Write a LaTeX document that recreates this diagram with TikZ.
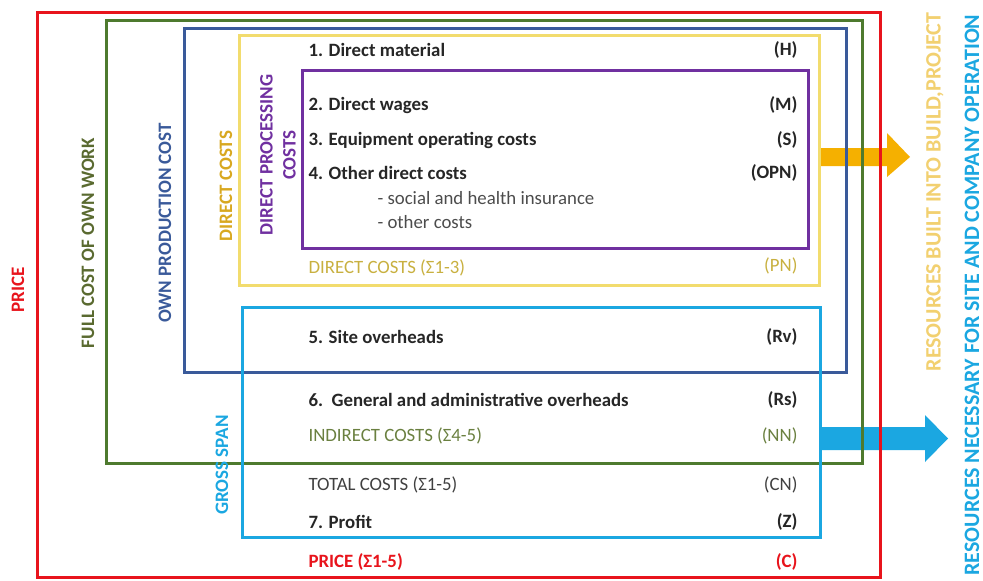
\documentclass[tikz,border=0pt]{standalone}
\usepackage{fontspec}
\setmainfont{Carlito}
\begin{document}
\begin{tikzpicture}[x=1pt,y=-1pt,
  frame/.style={line width=3pt},
  item/.style={anchor=west,font=\bfseries\fontsize{18.8}{22}\selectfont,text=black!85},
  code/.style={anchor=east,font=\bfseries\fontsize{18.8}{22}\selectfont,text=black!85},
  sub/.style={anchor=west,font=\fontsize{18.8}{22}\selectfont,text=black!70},
  vlab/.style={rotate=90,font=\bfseries\fontsize{19}{22}\selectfont,align=center,inner sep=0pt}]
\definecolor{cred}{HTML}{E8141C}
\definecolor{cgreen}{HTML}{4E7A2E}
\definecolor{cblue}{HTML}{3A5A9A}
\definecolor{cyellow}{HTML}{F2DC6E}
\definecolor{cpurple}{HTML}{7030A0}
\definecolor{ccyan}{HTML}{1BA7E1}
\definecolor{corange}{HTML}{F5B000}
\definecolor{colive}{HTML}{C8B040}
\definecolor{cindirect}{HTML}{6A8040}
\definecolor{cfull}{HTML}{5A6A30}
\definecolor{cdirect}{HTML}{D8A820}
\definecolor{cres}{HTML}{F2D070}
\useasboundingbox (0,0) rectangle (983,581);
% arrows
\fill[corange] (820,148) -- (887,148) -- (887,133) -- (910,157) -- (887,177) -- (887,166) -- (820,166) -- cycle;
\fill[ccyan] (820,427) -- (925,427) -- (925,415) -- (948,438.5) -- (925,462) -- (925,450) -- (820,450) -- cycle;
% frames
\draw[frame,cred] (37,12) rectangle (880,577);
\draw[frame,cgreen] (106,20) rectangle (862,463);
\draw[frame,cblue] (184,28) rectangle (846,372);
\draw[frame,cyellow] (239,35) rectangle (819,285);
\draw[frame,cpurple] (302,70) rectangle (808,248);
\draw[frame,ccyan] (242,307) rectangle (820,537);
% items
\node[item] (i1) at (305,50) {1. Direct material};
\node[code] (c1) at (801,50) {(H)};
\node[item] (i2) at (305,105) {2. Direct wages};
\node[code] (c2) at (801,105) {(M)};
\node[item] (i3) at (305,140) {3. Equipment operating costs};
\node[code] (c3) at (801,140) {(S)};
\node[item] (i4) at (305,173) {4. Other direct costs};
\node[code] (c4) at (801,173) {(OPN)};
\node[sub] (s1) at (374,198) {- social and health insurance};
\node[sub] (s2) at (374,222) {- other costs};
\node[sub,text=colive] (dc) at (305,268) {DIRECT COSTS (Σ1-3)};
\node[code,font=\fontsize{18.8}{22}\selectfont,text=colive] (pn) at (801,266) {(PN)};
\node[item] (i5) at (305,337) {5. Site overheads};
\node[code] (c5) at (801,337) {(Rv)};
\node[item] (i6) at (305,400) {6.\ \ General and administrative overheads};
\node[code] (c6) at (801,400) {(Rs)};
\node[sub,text=cindirect] (ic) at (305,436) {INDIRECT COSTS (Σ4-5)};
\node[code,font=\fontsize{18.8}{22}\selectfont,text=cindirect] (nn) at (801,436) {(NN)};
\node[sub,text=black!75] (tc) at (305,485) {TOTAL COSTS (Σ1-5)};
\node[code,font=\fontsize{18.8}{22}\selectfont,text=black!75] (cn) at (801,485) {(CN)};
\node[item] (i7) at (305,522) {7. Profit};
\node[code] (c7) at (801,522) {(Z)};
\node[item,text=cred] (pr) at (305,562) {PRICE (Σ1-5)};
\node[code,text=cred] (cc) at (801,562) {(C)};
% vertical labels
\node[vlab,text=cred] (lprice) at (18,290) {PRICE};
\node[vlab,text=cfull] (lfull) at (88,243) {FULL COST OF OWN WORK};
\node[vlab,text=cblue] (lown) at (165,223) {OWN PRODUCTION COST};
\node[vlab,text=cdirect] (ldir) at (226,186) {DIRECT COSTS};
\node[vlab,text=cpurple,font=\bfseries\fontsize{19}{23}\selectfont] (lproc) at (278,155) {DIRECT PROCESSING\\COSTS};
\node[vlab,text=ccyan] (lgross) at (222,465) {GROSS SPAN};
\node[vlab,text=cres,font=\bfseries\fontsize{22}{24}\selectfont] (lres1) at (935,192) {RESOURCES BUILT INTO BUILD,PROJECT};
\node[vlab,text=ccyan,font=\bfseries\fontsize{22}{24}\selectfont] (lres2) at (972,295) {RESOURCES NECESSARY FOR SITE AND COMPANY OPERATION};
\end{tikzpicture}
\end{document}
